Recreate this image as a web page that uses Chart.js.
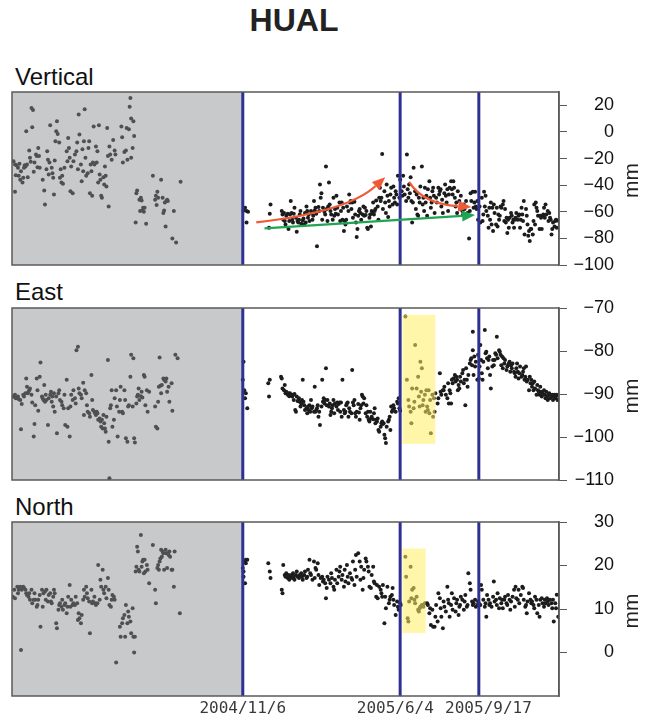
<!DOCTYPE html>
<html>
<head>
<meta charset="utf-8">
<script src="https://cdn.jsdelivr.net/npm/chart.js@4.4.1/dist/chart.umd.min.js"></script>
<style>
  html, body { margin: 0; padding: 0; background: #fff; }
  body { width: 650px; height: 717px; position: relative; overflow: hidden; font-family: "Liberation Sans", Arial, sans-serif; }
  .lbl { position: absolute; white-space: nowrap; line-height: 1; color: #111; }
  .box { position: absolute; left: 0; width: 650px; }
  canvas { display: block; }
</style>
</head>
<body>
<div class="lbl" style="left:0;width:588px;text-align:center;top:4px;font-size:32px;font-weight:bold;color:#222">HUAL</div>
<div class="lbl" style="left:15px;top:65px;font-size:24px">Vertical</div>
<div class="lbl" style="left:15px;top:280px;font-size:24px">East</div>
<div class="lbl" style="left:15px;top:495px;font-size:24px">North</div>
<div class="box" style="top:80px;height:200px"><canvas id="vertChart" width="650" height="200"></canvas></div>
<div class="box" style="top:296px;height:200px"><canvas id="eastChart" width="650" height="200"></canvas></div>
<div class="box" style="top:510px;height:207px"><canvas id="northChart" width="650" height="207"></canvas></div>
<script>
// days counted from 2004/11/6
const eventDays = [0, 210, 315];
const eventLabels = ["2004/11/6", "2005/6/4", "2005/9/17"];
const dayRange = [-308, 422];

const vertTicks = [-100, -80, -60, -40, -20, 0, 20];
const eastTicks = [-110, -100, -90, -80, -70];
const northTicks = [0, 10, 20, 30];
const vertRange = [-100, 30];
const eastRange = [-110, -70];
const northRange = [-10, 30];

// [day, mm]
const vertOld = [[-306,-22],[-304,-24.5],[-303,-32.5],[-302,-25],[-300,-27],[-299,-33],[-298,-24],[-297,-36],[-296,-29.5],[-294,-38],[-293,-34.5],[-292,-27],[-291,-25],[-290,-26],[-289,0.5],[-288,-24.5],[-287,-34],[-285,-14],[-284,-19.5],[-283,-22.5],[-282,18],[-281,3.5],[-280,16.5],[-279,-30],[-278,-23],[-276,-17],[-275,-18],[-274,-26.5],[-273,-12],[-272,-18],[-271,-27],[-304,-45],[-267,-36],[-265,-44],[-264,-54.5],[-262,-28],[-261,-14.5],[-260,-21],[-259,-32],[-258,-23],[-257,5],[-255,-27],[-254,-31],[-253,-34.5],[-252,-47],[-251,-21.5],[-250,-7],[-249,0.5],[-248,8],[-247,-1.5],[-245,-8],[-244,-34.5],[-243,-28],[-242,-38],[-241,-33],[-240,-39],[-238,-27],[-235,-14.5],[-234,-22],[-233,-4.5],[-232,-12],[-231,-19.5],[-230,-44.5],[-229,-26],[-227,-46],[-226,-22],[-224,-17],[-222,-14.5],[-221,-8],[-220,-28],[-219,13],[-218,-2],[-216,-24.5],[-215,-37],[-214,-13],[-213,-29.5],[-212,-7],[-211,17],[-210,-19.5],[-209,-33],[-207,-31],[-206,-12],[-205,-7],[-204,-46],[-203,-24.5],[-202,-29.5],[-201,-48],[-200,-23],[-199,4],[-198,-24.5],[-196,-11],[-195,-23],[-194,-14.5],[-193,-38],[-192,5],[-191,-32],[-190,-36],[-189,-48],[-188,-49.5],[-186,-34],[-185,-39.5],[-184,-26],[-183,-33],[-182,-41],[-181,3],[-180,-18],[-179,-56],[-178,-11],[-177,-17],[-175,-21],[-173,-6],[-171,-14],[-170,-17],[-162,4],[-161,-4],[-160,-23],[-158,-15],[-156,-14],[-155,3],[-154,-21],[-152,2],[-151,19],[-150,25.5],[-149,10],[-149,-19.5],[-147,-12],[-146,8],[-145,-3],[-143,-68],[-142,-46],[-141,-44],[-138,-51],[-137,-59.5],[-136,-49.5],[-135,-51.5],[-134,-59],[-133,-57],[-132,-60],[-131,-57],[-129,-69],[-120,-33],[-117,-51],[-116,-48],[-115,-55],[-114,-45],[-113,-49.5],[-109,-36],[-107,-49.5],[-106,-61],[-105,-59],[-104,-53],[-103,-71],[-102,-52],[-101,-51],[-100,-52],[-94,-80],[-92,-59.5],[-89,-83],[-83,-37.5]];

const vertNew = [[1,-59],[3,-57],[5,-59.5],[7,-60],[5,-68],[35,-72],[36,-61.5],[37,-54.5],[52,-59.5],[53,-62],[54,-66],[55,-61],[56,-67],[57,-69.5],[58,-63],[60,-61.5],[61,-73],[62,-67],[63,-62],[64,-52],[65,-61],[66,-66],[67,-68],[68,-61.5],[69,-57],[71,-64.5],[72,-75],[73,-67],[74,-68],[75,-66],[76,-62],[77,-59.5],[78,-69],[80,-66.5],[81,-65],[82,-69.5],[83,-61],[84,-68],[85,-56],[86,-59.5],[87,-64.5],[88,-62],[89,-67],[91,-59.5],[92,-61],[93,-66],[94,-63],[95,-52],[96,-59],[97,-57],[98,-61.5],[99,-86],[101,-56.5],[102,-59.5],[103,-39.5],[104,-49.5],[105,-46],[106,-66],[107,-57],[109,-60],[110,-62],[111,-26],[112,-58],[113,-67],[114,-56],[115,-38],[116,-54.5],[117,-59.5],[118,-62],[120,-66],[121,-49.5],[122,-63],[123,-58],[124,-61.5],[125,-48],[126,-57],[127,-62],[129,-53],[130,-67],[131,-59.5],[132,-53],[133,-66],[134,-57],[135,-74.5],[136,-67],[137,-69.5],[138,-66],[139,-56],[141,-59.5],[142,-47],[143,-53],[144,-52],[145,-58],[146,-53],[147,-64.5],[149,-52.5],[150,-62],[151,-68],[152,-79],[153,-73],[154,-63],[155,-59.5],[156,-58],[157,-61],[158,-66],[160,-62],[161,-56],[162,-63],[163,-57],[164,-62.5],[165,-59.5],[166,-72],[167,-73],[169,-64.5],[170,-62],[171,-71],[172,-59.5],[173,-61],[174,-53],[175,-62],[176,-59.5],[177,-58],[178,-51.5],[180,-56],[181,-66],[182,-49.5],[183,-42],[184,-52],[185,-49.5],[186,-16.5],[187,-58],[189,-44.5],[190,-53],[191,-61],[192,-39.5],[193,-48],[194,-64],[195,-52],[196,-56],[197,-47],[198,-42],[200,-54.5],[201,-41],[202,-49.5],[203,-53],[204,-44.5],[205,-47],[206,-54.5],[207,-33],[209,-49.5],[210,-36],[212,-44.5],[213,-48],[214,-33],[215,-41],[216,-47],[218,-52],[219,-17],[220,-43],[221,-49.5],[222,-39.5],[223,-46],[224,-34],[225,-52],[226,-68],[227,-53],[228,-27],[230,-44.5],[231,-58],[232,-47],[233,-62],[234,-63],[235,-49.5],[236,-53],[237,-41],[239,-26],[240,-54.5],[241,-49.5],[242,-59.5],[243,-42],[244,-53],[245,-48],[246,-63],[247,-43],[249,-37],[250,-49.5],[251,-57],[252,-53],[253,-44.5],[254,-42],[255,-48],[256,-61],[258,-49.5],[259,-53],[261,-42],[262,-47],[263,-44.5],[264,-43],[265,-56],[266,-51],[267,-61],[269,-46],[270,-39.5],[271,-48],[272,-53],[273,-43],[274,-59.5],[275,-47],[276,-42],[278,-37],[279,-43],[280,-47],[281,-37],[282,-42],[283,-49.5],[284,-56],[285,-53],[286,-61],[287,-44.5],[289,-52],[290,-58],[291,-48],[292,-57],[293,-59.5],[294,-62],[295,-54.5],[296,-58],[298,-52],[299,-63],[300,-61],[302,-80],[303,-59.5],[304,-46],[305,-52],[307,-45],[308,-57],[309,-53],[310,-45],[311,-56],[312,-58],[313,-52],[314,-66],[316,-56],[317,-68],[319,-49.5],[320,-67],[321,-62],[322,-45],[323,-56],[324,-48],[325,-59.5],[327,-63],[328,-72],[329,-57],[330,-66],[331,-53],[332,-69.5],[333,-57],[334,-74.5],[335,-54.5],[336,-61],[338,-69.5],[339,-57],[340,-71],[341,-62],[342,-66],[343,-63],[344,-56],[345,-57],[347,-54.5],[348,-52],[349,-67],[350,-58],[351,-68],[352,-64.5],[353,-76],[354,-66],[355,-72],[356,-64.5],[358,-61],[359,-63],[360,-68],[361,-66],[362,-72],[363,-66],[364,-64.5],[365,-61],[367,-66],[368,-63],[369,-62],[370,-72],[371,-66],[372,-57],[373,-62],[374,-67],[375,-52],[376,-77],[378,-58],[379,-63],[380,-69.5],[381,-78],[382,-74.5],[383,-82],[384,-73],[385,-73],[387,-77],[388,-67],[389,-54.5],[390,-69.5],[391,-53],[392,-57],[393,-59.5],[394,-63],[396,-73],[397,-63],[398,-64.5],[399,-73],[400,-63],[401,-62],[402,-57],[403,-64.5],[404,-54.5],[405,-62],[407,-59.5],[408,-67],[409,-61],[410,-64.5],[411,-66],[412,-77],[413,-73],[414,-68],[416,-71],[417,-67],[418,-66],[419,-72],[420,-66.5]];

const eastOld = [[-306,-90.6],[-304,-90.2],[-303,-91],[-301,-90.8],[-300,-90.6],[-299,-91.2],[-297,-91.4],[-296,-98.2],[-295,-92.3],[-293,-90.2],[-292,-90.6],[-290,-89.8],[-289,-86.4],[-288,-88.3],[-287,-89.8],[-286,-89.5],[-285,-89.1],[-284,-88.7],[-282,-90.2],[-281,-92],[-279,-99.9],[-278,-97],[-277,-92.6],[-275,-86.4],[-274,-89.1],[-273,-93.9],[-271,-86],[-270,-82.7],[-268,-90.6],[-267,-91],[-266,-91.4],[-265,-87.9],[-264,-91.8],[-263,-90.2],[-262,-91.4],[-260,-97.2],[-259,-91],[-257,-90.2],[-256,-89.5],[-255,-91.8],[-254,-90.6],[-253,-92.9],[-252,-89.8],[-251,-94.1],[-249,-90.6],[-248,-99.1],[-246,-89.8],[-245,-89.1],[-244,-91.4],[-242,-91.8],[-241,-92.6],[-239,-93.3],[-238,-90.2],[-237,-97.2],[-235,-86.7],[-234,-97.6],[-233,-93.3],[-231,-99.9],[-230,-92.9],[-229,-90.2],[-227,-91.4],[-226,-89.1],[-224,-91],[-223,-92.2],[-222,-79.8],[-220,-79],[-219,-88.7],[-218,-89.8],[-216,-90.2],[-215,-91],[-213,-87.4],[-212,-94.9],[-211,-89.1],[-209,-89.8],[-208,-92.6],[-207,-94.1],[-205,-94.5],[-204,-95.3],[-202,-85.6],[-201,-91.4],[-200,-93.7],[-198,-94.1],[-197,-94.5],[-196,-94.9],[-195,-94.1],[-194,-94.5],[-193,-96],[-191,-95.7],[-190,-96.4],[-189,-97.6],[-188,-96],[-187,-98],[-186,-94.9],[-185,-96.8],[-184,-98],[-183,-98.8],[-182,-95.3],[-180,-82.1],[-179,-101.1],[-178,-109.6],[-177,-93.3],[-176,-92.6],[-175,-89.1],[-174,-97.6],[-172,-96],[-171,-91],[-169,-89.1],[-168,-92.9],[-167,-99.9],[-165,-94.1],[-164,-91.4],[-163,-88.3],[-161,-94.1],[-160,-94.5],[-158,-89.1],[-157,-91.4],[-156,-100.3],[-154,-101.1],[-153,-92.9],[-152,-92.6],[-150,-86],[-149,-80.9],[-147,-92.9],[-146,-81.7],[-145,-100.3],[-144,-101.3],[-142,-92.2],[-141,-90.6],[-140,-90.2],[-139,-88.7],[-138,-91.4],[-136,-90.5],[-135,-89.5],[-134,-90.8],[-132,-85.6],[-131,-86],[-130,-92.6],[-128,-89.1],[-127,-94.1],[-125,-89.5],[-117,-92.9],[-116,-97.6],[-114,-98],[-113,-91.8],[-112,-88.3],[-111,-81.5],[-110,-88.1],[-109,-89.8],[-108,-87.9],[-106,-86.4],[-105,-86.7],[-103,-87.1],[-102,-86.4],[-101,-89.5],[-99,-88.3],[-98,-91.8],[-95,-87.5],[-94,-93.9],[-90,-80.9],[-87,-81.7]];

const eastNew = [[0,-86.7],[1,-82.5],[2,-89.1],[3,-91],[4,-89.8],[6,-93.3],[34,-87.5],[35,-90.6],[36,-86.7],[51,-86],[52,-86.4],[53,-88.7],[55,-89.1],[56,-87.9],[57,-89.8],[58,-89.5],[60,-90.2],[61,-89.8],[62,-90.5],[63,-89.8],[65,-90.2],[66,-90.6],[67,-90.2],[68,-91.4],[69,-90],[70,-93.7],[71,-94.1],[72,-90.6],[73,-91.6],[75,-91],[76,-91.8],[77,-92.9],[78,-92.2],[79,-91.4],[80,-86.7],[81,-91.8],[82,-92.6],[83,-93.7],[85,-93.3],[86,-94.5],[87,-92.9],[88,-93.7],[89,-92.6],[90,-94.1],[91,-91.4],[92,-93.3],[93,-92.9],[95,-94.1],[96,-88.3],[97,-94.1],[98,-93.7],[99,-93.3],[100,-92.6],[101,-95.3],[102,-94.1],[103,-97.2],[105,-92.9],[106,-86.7],[107,-91.8],[108,-91],[109,-92.2],[110,-91.4],[111,-84],[112,-92.6],[113,-91.4],[115,-92.9],[116,-92.2],[117,-94.9],[118,-94.1],[119,-93.3],[120,-92.6],[121,-91.4],[122,-94.5],[123,-92.2],[125,-92.9],[126,-92],[127,-93.7],[128,-92.3],[129,-92],[130,-94.1],[131,-92],[132,-95.3],[133,-86.7],[135,-93.7],[136,-94.5],[137,-94.1],[138,-92.6],[139,-92.2],[140,-92],[141,-95.3],[142,-93.3],[143,-94.1],[145,-94.5],[146,-84.4],[147,-92],[148,-92.6],[149,-91.4],[150,-94.5],[151,-95.3],[152,-94.1],[154,-92.3],[155,-94.3],[156,-96],[157,-93.3],[158,-92.6],[159,-90.2],[160,-90.6],[161,-92.2],[162,-91],[164,-94.5],[165,-92.6],[166,-95.3],[167,-94.1],[168,-96],[169,-96.4],[170,-94.1],[171,-95.7],[172,-95.3],[174,-95.9],[175,-94.5],[176,-93.3],[177,-96.8],[178,-96],[179,-96.4],[180,-95.7],[181,-98.4],[182,-98.8],[184,-97.6],[185,-96.8],[186,-96.4],[187,-97],[188,-96.8],[189,-99.5],[190,-100.3],[191,-101.4],[192,-97.6],[194,-96.4],[195,-96],[196,-95.3],[197,-98.4],[198,-92.9],[199,-94.1],[200,-93.7],[201,-92.6],[202,-93.3],[204,-94.1],[206,-91.8],[207,-92.2],[208,-91],[209,-93.3],[210,-93.9],[217,-72],[219,-86.7],[221,-91.4],[222,-92.9],[224,-94.1],[225,-96.8],[226,-88.7],[228,-93.3],[229,-91.8],[230,-78.6],[232,-88.7],[234,-86],[235,-90.6],[236,-92.9],[237,-82.5],[238,-89.5],[239,-84],[240,-92.6],[241,-91.4],[243,-90.2],[244,-94.1],[245,-89.1],[246,-92.9],[247,-93.7],[248,-89.1],[249,-94.5],[250,-91.4],[251,-99.1],[253,-90.2],[254,-95.3],[255,-91],[256,-94.1],[257,-89.8],[260,-92.2],[261,-91],[263,-85.2],[264,-89.5],[265,-90.2],[267,-89.1],[268,-89.1],[269,-88.3],[271,-90.2],[273,-91],[274,-87.5],[275,-92.2],[276,-89.1],[277,-89.8],[278,-92.2],[279,-86.7],[280,-87.5],[281,-86.4],[283,-85.6],[284,-87.1],[285,-86],[286,-86.7],[287,-89.1],[288,-87.9],[289,-88.7],[290,-86],[291,-87.1],[293,-85.2],[294,-84.4],[295,-87.5],[296,-86.7],[297,-92.6],[298,-84],[299,-86.7],[300,-88.3],[301,-85.6],[303,-82.9],[304,-82.1],[305,-81.7],[306,-83.3],[307,-79.8],[307,-75.5],[308,-85.6],[309,-81.3],[310,-83.6],[311,-82.5],[313,-86.7],[314,-80.9],[315,-86.4],[316,-83.6],[317,-78.6],[318,-82.1],[319,-85.2],[320,-86.7],[321,-82.5],[323,-75.1],[324,-80.5],[325,-80.2],[326,-81.7],[327,-84],[328,-82.1],[329,-81.3],[330,-85.6],[331,-88.7],[333,-83.6],[334,-82.1],[335,-83.3],[336,-82.1],[337,-80.5],[338,-80.9],[339,-76.7],[340,-81.7],[342,-79.8],[343,-80.2],[344,-80.9],[345,-83.3],[346,-81.3],[347,-84],[348,-81.7],[349,-82.9],[350,-82.1],[352,-84.4],[353,-83.6],[354,-83.3],[355,-82.9],[356,-82.5],[357,-84.8],[358,-83.3],[359,-84],[360,-82.9],[362,-84.8],[363,-85.2],[364,-86],[365,-84],[366,-82.9],[367,-84.8],[368,-86.4],[369,-85.2],[370,-83.6],[372,-86],[373,-85.6],[374,-84.8],[375,-84],[376,-86.7],[377,-86],[378,-83.6],[379,-87.1],[380,-86.7],[382,-89.1],[383,-86],[384,-87.5],[385,-86.7],[386,-88.3],[387,-87.5],[388,-89.1],[389,-87.1],[390,-88.7],[392,-90.2],[393,-87.9],[394,-89.1],[395,-89.5],[396,-90.2],[397,-88.3],[398,-89.5],[399,-90.6],[400,-89.8],[402,-89.1],[403,-90.2],[404,-91],[405,-89.5],[406,-90.6],[407,-91.4],[408,-90.2],[409,-89.8],[410,-91],[412,-90.6],[413,-90.2],[414,-91.4],[415,-90.6],[416,-90.2],[417,-91],[418,-90.6],[419,-90.2],[420,-91.4]];

const northOld = [[-307,12.8],[-305,14.4],[-304,12.5],[-301,15.1],[-300,13.6],[-299,14.4],[-297,15.1],[-296,0.6],[-295,14.4],[-293,15.1],[-292,14.8],[-290,14.4],[-289,13.6],[-288,13.2],[-286,12.8],[-285,13.6],[-284,12.1],[-282,14.4],[-281,11.3],[-279,12.1],[-278,13.6],[-277,12.1],[-275,10.5],[-274,10.9],[-273,12.1],[-271,13.2],[-270,5.9],[-268,14.4],[-267,10.5],[-266,13.6],[-264,14],[-263,12.1],[-262,14.4],[-260,11.7],[-259,13.2],[-257,13.6],[-256,11.7],[-255,11.3],[-253,12.8],[-252,14.4],[-251,13.6],[-249,6.7],[-248,5.6],[-246,9.8],[-245,10.9],[-244,11.3],[-242,10.5],[-241,12.1],[-240,9.8],[-238,10.9],[-237,11.3],[-235,9],[-234,10.5],[-233,12.8],[-231,15.5],[-230,10.5],[-229,12.1],[-227,10.9],[-226,11.3],[-224,10.9],[-223,12.8],[-221,11.3],[-220,7.5],[-219,9],[-218,7.9],[-216,6.7],[-215,8.6],[-213,12.1],[-212,14.4],[-211,12.8],[-209,15.1],[-208,13.6],[-207,12.5],[-205,11.7],[-204,4.4],[-202,14.4],[-201,11.3],[-200,11.7],[-198,12.8],[-197,11.3],[-196,10.9],[-194,11.3],[-193,20.1],[-191,12.1],[-190,16.7],[-189,15.1],[-187,19],[-186,14.4],[-185,13.6],[-183,15.1],[-182,12.5],[-180,17.1],[-179,14.4],[-178,10.9],[-176,10.5],[-175,12.1],[-174,13.2],[-172,12.8],[-171,12.1],[-169,-2.3],[-164,5.9],[-163,3.6],[-161,6.7],[-160,7.9],[-158,8.6],[-157,3.6],[-156,10.9],[-154,6.7],[-153,9.4],[-152,8.2],[-150,7.1],[-149,4.4],[-147,10.2],[-146,3.6],[-145,0],[-144,3.6],[-143,18.6],[-142,19.7],[-141,24.3],[-140,23.2],[-139,19],[-138,18.6],[-136,27],[-135,19.7],[-134,20.9],[-133,21.3],[-132,18.2],[-131,21.3],[-130,18.6],[-128,20.1],[-127,19],[-125,15.9],[-120,24.7],[-117,14.4],[-116,11.3],[-114,19.4],[-113,20.1],[-112,19],[-111,20.9],[-110,21.6],[-109,23.6],[-108,22],[-107,23.2],[-106,22.8],[-105,19],[-103,23.6],[-102,22.8],[-101,19.4],[-100,22.8],[-99,22.4],[-98,23.2],[-97,22],[-95,19],[-94,19],[-92,15.1],[-91,23.2],[-84,9]];

const northNew = [[0,19.4],[1,18.6],[1,17.4],[2,20.9],[3,15.9],[4,20.5],[4,21.3],[6,21.3],[34,20.5],[36,18.6],[37,17.1],[52,14.4],[53,13.6],[54,20.1],[56,17.8],[57,17.4],[58,18.2],[60,17.1],[61,17.8],[62,16.7],[63,17.4],[65,17.8],[66,17.1],[67,18.2],[68,17.4],[69,16.7],[71,17.8],[72,18.6],[73,17.4],[75,17.1],[76,17.8],[78,18.2],[79,17.4],[80,16.7],[82,17.8],[83,18.6],[85,17.1],[86,17.4],[87,19],[89,21.3],[90,18.2],[91,17.8],[93,16.7],[95,20.9],[96,17.1],[97,19.4],[98,19],[100,20.5],[101,17.8],[102,15.5],[104,17.1],[106,17.4],[107,16.3],[108,16.7],[110,15.9],[111,12.5],[112,14.8],[113,17.4],[115,16.7],[117,15.9],[118,18.2],[119,17.1],[121,15.1],[122,14.4],[123,16.7],[125,19],[126,15.9],[128,17.4],[129,18.6],[130,19.7],[132,16.7],[133,17.8],[135,15.1],[136,19],[137,16.3],[139,20.1],[140,17.4],[141,15.9],[143,18.2],[145,17.1],[146,16.7],[147,20.9],[149,15.5],[150,19],[151,22.4],[152,17.4],[154,22.8],[156,20.9],[157,16.7],[158,19.7],[160,14.4],[161,17.1],[162,19],[164,21.6],[165,20.9],[167,19.7],[168,18.6],[169,15.1],[171,14.8],[172,17.8],[174,19.7],[175,16.3],[176,15.9],[178,12.8],[179,15.5],[180,12.5],[182,15.1],[184,14.4],[185,13.6],[186,12.8],[187,15.5],[189,6.7],[190,12.8],[191,10.2],[193,15.1],[195,11.3],[196,12.1],[197,12.8],[199,13.2],[200,14.8],[201,12.1],[202,10.9],[204,8.6],[206,11.7],[207,10.5],[208,9.8],[210,11.3],[211,10.9],[217,22],[218,17.4],[220,7.9],[221,7.1],[222,11.7],[224,19.7],[225,12.5],[226,14.4],[228,14.8],[229,12.1],[230,11.3],[232,12.8],[234,9.8],[235,9.4],[236,10.2],[237,10.5],[239,10.9],[240,10.9],[241,10.5],[243,11.3],[246,11.3],[247,10.9],[249,9],[250,10.2],[251,6.3],[253,9.8],[254,5.9],[256,5.9],[257,8.2],[258,10.9],[260,7.1],[261,13.6],[263,12.5],[264,10.2],[265,8.2],[267,5.6],[268,11.7],[269,10.5],[271,9.4],[273,15.1],[274,12.1],[275,11.3],[276,8.2],[278,10.9],[279,13.6],[280,9.8],[282,12.5],[284,9.4],[285,11.3],[286,12.1],[288,8.6],[289,10.5],[290,10.9],[291,12.8],[293,12.1],[295,9.8],[296,11.7],[297,13.2],[299,10.5],[300,10.9],[301,18.2],[303,15.9],[304,14.4],[306,11.7],[307,10.9],[308,11.3],[310,12.1],[311,10.5],[313,10.9],[314,11.7],[315,11.3],[317,10.9],[318,15.5],[319,14.4],[321,12.1],[323,10.5],[324,11.3],[325,8.2],[326,13.2],[328,12.1],[329,10.9],[330,11.3],[332,10.5],[334,12.8],[335,16.3],[336,11.7],[338,12.1],[339,10.9],[340,13.6],[342,10.2],[343,12.5],[345,11.3],[346,12.1],[347,10.2],[349,12.1],[350,12.8],[352,11.3],[353,10.9],[354,13.2],[356,12.1],[357,9.8],[358,11.7],[360,12.8],[362,14.4],[363,10.5],[364,15.1],[365,12.5],[367,12.1],[368,14.4],[369,11.3],[371,13.2],[373,15.1],[374,14.8],[375,12.1],[377,10.5],[378,10.9],[379,9],[380,11.7],[382,13.6],[384,12.1],[385,11.3],[386,11.7],[388,10.9],[389,10.2],[390,12.8],[392,12.1],[393,9],[395,10.9],[396,8.2],[397,12.1],[399,12.5],[400,11.3],[402,10.5],[403,12.1],[404,11.3],[406,12.5],[407,11.7],[408,10.9],[410,12.1],[412,11.3],[413,10.2],[414,12.1],[415,7.1],[417,11.3],[418,10.2],[419,13.3],[421,8.2]];

// highlighted windows: [dayFrom, dayTo, mmLow, mmHigh]
const eastBand = [213, 257, -101.6, -71.6];
const northBand = [213, 244, 4.5, 23.9];

// trend arrows on the vertical panel, [day, mm] (start, [bend], tip)
const upArrow = [[18, -68], [140, -60], [190, -34]];
const downArrow = [[222, -37.5], [240, -54], [305, -56.5]];
const trendArrow = [[29, -72.5], [310, -62.5]];

// plot right edge at 559, tick labels right-aligned at 614
const AXIS_W = 55, RIGHT_PAD = 36, TICK_LEN = 8;

const toXY = (pts) => pts.map(p => ({ x: p[0], y: p[1] }));
const minus = (v) => String(v).replace('-', '\u2212');

function drawArrow(ctx, x, y, pts, color) {
  const p = pts.map(q => [x.getPixelForValue(q[0]), y.getPixelForValue(q[1])]);
  const tip = p[p.length - 1];
  const from = p[p.length - 2];
  const ang = Math.atan2(tip[1] - from[1], tip[0] - from[0]);
  const len = 13, half = 5.5;
  const base = [tip[0] - len * Math.cos(ang), tip[1] - len * Math.sin(ang)];
  ctx.strokeStyle = color;
  ctx.fillStyle = color;
  ctx.lineWidth = 2.2;
  ctx.beginPath();
  ctx.moveTo(p[0][0], p[0][1]);
  if (p.length === 3) ctx.quadraticCurveTo(p[1][0], p[1][1], base[0], base[1]);
  else ctx.lineTo(base[0], base[1]);
  ctx.stroke();
  ctx.beginPath();
  ctx.moveTo(tip[0], tip[1]);
  ctx.lineTo(base[0] + half * Math.sin(ang), base[1] - half * Math.cos(ang));
  ctx.lineTo(base[0] - half * Math.sin(ang), base[1] + half * Math.cos(ang));
  ctx.closePath();
  ctx.fill();
}

const panelDecor = {
  id: 'panelDecor',
  beforeDatasetsDraw(chart) {
    const { ctx, chartArea: a, scales: { x } } = chart;
    ctx.save();
    ctx.fillStyle = '#c8c9cb';
    ctx.fillRect(a.left, a.top, x.getPixelForValue(eventDays[0]) - a.left, a.bottom - a.top);
    ctx.restore();
  },
  afterDatasetsDraw(chart, args, opts) {
    const { ctx, chartArea: a, scales: { x, y } } = chart;
    ctx.save();
    if (opts.band) {
      const b = opts.band;
      const x0 = x.getPixelForValue(b[0]), x1 = x.getPixelForValue(b[1]);
      const y0 = y.getPixelForValue(b[3]), y1 = y.getPixelForValue(b[2]);
      ctx.fillStyle = 'rgba(255, 238, 100, 0.55)';
      ctx.fillRect(x0, y0, x1 - x0, y1 - y0);
    }
    ctx.strokeStyle = '#2e3192';
    ctx.lineWidth = 3;
    eventDays.forEach(d => {
      const px = x.getPixelForValue(d);
      ctx.beginPath();
      ctx.moveTo(px, a.top);
      ctx.lineTo(px, a.bottom);
      ctx.stroke();
    });
    (opts.arrows || []).forEach(ar => drawArrow(ctx, x, y, ar.pts, ar.color));
    ctx.strokeStyle = '#5a5a5a';
    ctx.lineWidth = 1.5;
    ctx.strokeRect(a.left, a.top, a.right - a.left, a.bottom - a.top);
    ctx.translate(632, (a.top + a.bottom) / 2 + 2);
    ctx.rotate(-Math.PI / 2);
    ctx.fillStyle = '#222';
    ctx.font = '21px "Liberation Sans", Arial, sans-serif';
    ctx.textAlign = 'center';
    ctx.textBaseline = 'middle';
    ctx.fillText('mm', 0, 0);
    ctx.restore();
  }
};

// labels nudged apart so the two close dates do not touch
const dateLabelText = ["2004/11/6", "2005/6/4 ", "  2005/9/17"];

function makePanel(id, oldPts, newPts, ticks, range, plotH, extra, showDates) {
  const canvas = document.getElementById(id);
  return new Chart(canvas, {
    type: 'scatter',
    data: {
      datasets: [
        { data: toXY(oldPts), backgroundColor: '#505050', pointRadius: 2, borderWidth: 0 },
        { data: toXY(newPts), backgroundColor: '#1c1c1c', pointRadius: 2, borderWidth: 0 }
      ]
    },
    options: {
      responsive: false,
      animation: false,
      events: [],
      layout: { padding: { left: 12, right: RIGHT_PAD, top: 12, bottom: showDates ? 0 : canvas.height - 12 - plotH } },
      plugins: { legend: { display: false }, tooltip: { enabled: false }, panelDecor: extra },
      scales: {
        x: {
          type: 'linear',
          min: dayRange[0],
          max: dayRange[1],
          display: showDates,
          afterBuildTicks: (s) => { s.ticks = eventDays.map(v => ({ value: v })); },
          afterFit: (s) => { s.height = showDates ? 21 : 0; s.paddingLeft = 0; s.paddingRight = 0; },
          grid: { display: false, drawTicks: false },
          border: { display: false },
          ticks: {
            autoSkip: false,
            maxRotation: 0,
            padding: 3,
            color: '#3a3a3a',
            font: { family: '"DejaVu Sans Mono", monospace', size: 16 },
            callback: (v, i) => dateLabelText[i]
          }
        },
        y: {
          position: 'right',
          min: range[0],
          max: range[1],
          afterBuildTicks: (s) => { s.ticks = ticks.map(v => ({ value: v })); },
          afterFit: (s) => { s.width = AXIS_W; s.paddingTop = 0; s.paddingBottom = 0; },
          grid: { drawOnChartArea: false, drawTicks: true, tickLength: TICK_LEN, color: '#5a5a5a' },
          border: { display: true, color: '#5a5a5a', width: 1.5 },
          ticks: {
            crossAlign: 'far',
            padding: 2,
            color: '#111',
            font: { family: '"Liberation Sans", Arial, sans-serif', size: 18 },
            callback: (v) => minus(v)
          }
        }
      }
    },
    plugins: [panelDecor]
  });
}

makePanel('vertChart', vertOld, vertNew, vertTicks, vertRange, 173, {
  arrows: [
    { pts: upArrow, color: '#ef5a36' },
    { pts: downArrow, color: '#ef5a36' },
    { pts: trendArrow, color: '#1fa552' }
  ]
}, false);
makePanel('eastChart', eastOld, eastNew, eastTicks, eastRange, 172, { band: eastBand }, false);
makePanel('northChart', northOld, northNew, northTicks, northRange, 174, { band: northBand }, true);
</script>
</body>
</html>
